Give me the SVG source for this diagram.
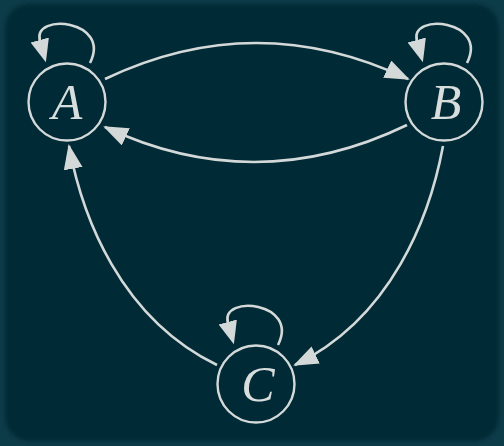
<svg xmlns="http://www.w3.org/2000/svg" width="504" height="446" viewBox="0 0 504 446">
  <defs>
    <style>
      .edge { fill: none; stroke: #d3d9d9; stroke-width: 2.6; }
      .node circle { fill: none; stroke: #d3d9d9; stroke-width: 2.4; }
      .node text { font-family: "Liberation Serif", "DejaVu Serif", serif; font-style: italic; font-size: 50px; fill: #d8dddd; text-anchor: middle; }
    </style>
    <!-- arrowhead whose tip sits on the path end -->
    <marker id="tip" markerUnits="userSpaceOnUse" markerWidth="30" markerHeight="22" refX="23" refY="9.5" orient="auto">
      <path d="M0,0 L25,9.5 L0,19 z" fill="#d3d9d9"/>
    </marker>
    <!-- arrowhead whose base sits on the path end (self loops) -->
    <marker id="head" markerUnits="userSpaceOnUse" markerWidth="30" markerHeight="22" refX="1" refY="9.5" orient="auto">
      <path d="M0,0 L23,9.5 L0,19 z" fill="#d3d9d9"/>
    </marker>
    <filter id="soft" x="-5%" y="-5%" width="110%" height="110%">
      <feGaussianBlur stdDeviation="2"/>
    </filter>
  </defs>

  <!-- frame -->
  <rect x="0" y="0" width="504" height="446" fill="#0d3c49"/>
  <rect x="5" y="4" width="494" height="437" rx="24" ry="24" fill="#032936" filter="url(#soft)"/>

  <g id="connectors">
    <!-- A to B -->
    <path class="edge" d="M105,79 Q256,7 408,79" marker-end="url(#tip)"/>
    <!-- B to A -->
    <path class="edge" d="M407,125 Q256,198 105,127" marker-end="url(#tip)"/>
    <!-- B to C -->
    <path class="edge" d="M443,146 C430,216 392,318 295,365" marker-end="url(#tip)"/>
    <!-- C to A -->
    <path class="edge" d="M217,365 C120,318 82,216 69,146" marker-end="url(#tip)"/>
    <!-- self loops -->
    <path class="edge" d="M90,63 C112,20 32,12 40,41" marker-end="url(#head)"/>
    <path class="edge" d="M467,63 C489,20 409,12 417,41" marker-end="url(#head)"/>
    <path class="edge" d="M278,345 C300,302 220,294 228,323" marker-end="url(#head)"/>
  </g>

  <g id="node-A" class="node">
    <circle cx="67" cy="102" r="38.5"/>
    <text x="67" y="119">A</text>
  </g>
  <g id="node-B" class="node">
    <circle cx="444" cy="102" r="38.5"/>
    <text x="446" y="119">B</text>
  </g>
  <g id="node-C" class="node">
    <circle cx="256" cy="384" r="38.5"/>
    <text x="258" y="401">C</text>
  </g>
</svg>
